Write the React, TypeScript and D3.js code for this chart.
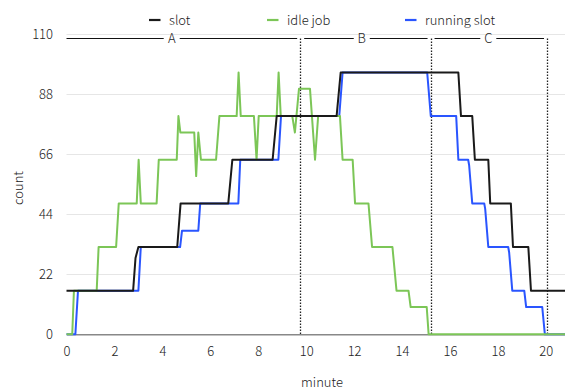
import React, { useEffect, useRef } from 'react';
import * as d3 from 'd3';

// [minute, count] samples
const slotPoints: [number, number][] = [
  [0, 16], [2.78, 16], [2.88, 28], [3.0, 32], [4.62, 32], [4.76, 48], [6.75, 48], [6.92, 64],
  [8.6, 64], [8.77, 80], [11.27, 80], [11.44, 96], [16.35, 96], [16.46, 80], [16.93, 80],
  [17.04, 64], [17.6, 64], [17.68, 48], [18.54, 48], [18.63, 32], [19.27, 32], [19.38, 16],
  [20.8, 16],
];

const idlePoints: [number, number][] = [
  [0, 0], [0.24, 0], [0.31, 16], [1.26, 16], [1.34, 32], [2.07, 32], [2.18, 48], [2.93, 48],
  [3.01, 64], [3.1, 48], [3.76, 48], [3.85, 64], [4.6, 64], [4.67, 80], [4.75, 74], [5.33, 74],
  [5.41, 58], [5.5, 74], [5.61, 64], [6.24, 64], [6.38, 80], [7.1, 80], [7.18, 96], [7.27, 80],
  [7.82, 80], [7.93, 64], [8.02, 80], [8.77, 80], [8.85, 96], [8.94, 80], [9.42, 80], [9.53, 74],
  [9.7, 90], [10.16, 90], [10.37, 64], [10.5, 80], [11.41, 80], [11.52, 64], [11.94, 64],
  [12.04, 48], [12.6, 48], [12.75, 32], [13.6, 32], [13.77, 16], [14.27, 16], [14.36, 10],
  [15.03, 10], [15.11, 0], [20.8, 0],
];

const runningPoints: [number, number][] = [
  [0, 0], [0.37, 0], [0.48, 16], [3.0, 16], [3.1, 32], [4.74, 32], [4.82, 38], [5.5, 38],
  [5.58, 48], [7.17, 48], [7.25, 64], [8.84, 64], [8.95, 80], [11.38, 80], [11.52, 96],
  [15.05, 96], [15.2, 80], [16.26, 80], [16.35, 64], [16.76, 64], [16.8, 62], [16.93, 48],
  [17.43, 48], [17.47, 46], [17.6, 32], [18.43, 32], [18.47, 30], [18.6, 16], [19.1, 16],
  [19.18, 10], [19.85, 10], [19.96, 0], [20.8, 0],
];

const xTicks = [0, 2, 4, 6, 8, 10, 12, 14, 16, 18, 20];
const yTicks = [0, 22, 44, 66, 88, 110];

// phase boundaries (minute), labels and where each label sits
const phaseBounds = [0, 9.75, 15.19, 20.05];
const phaseLabels = ['A', 'B', 'C'];
const phaseLabelAt = [4.39, 12.32, 17.6];

const legendItems = [
  { label: 'slot', color: '#1a1a1a' },
  { label: 'idle job', color: '#7cc657' },
  { label: 'running slot', color: '#2a55ff' },
];

const FONT = '"Noto Sans CJK KR", "Noto Sans", sans-serif';

const App = () => {
  const ref = useRef<SVGSVGElement | null>(null);

  useEffect(() => {
    if (!ref.current) return;
    const svg = d3.select(ref.current);
    svg.selectAll('*').remove();

    const x = d3.scaleLinear().domain([0, 20.8]).range([66.5, 565]);
    const y = d3.scaleLinear().domain([0, 110]).range([334.3, 34.3]);

    // grid
    svg.append('g')
      .selectAll('line')
      .data(yTicks.filter(d => d > 0))
      .enter()
      .append('line')
      .attr('x1', x(0))
      .attr('x2', x(20.8))
      .attr('y1', d => Math.round(y(d)) + 0.5)
      .attr('y2', d => Math.round(y(d)) + 0.5)
      .attr('stroke', '#e6e6e6')
      .attr('stroke-width', 1);

    // y labels
    svg.append('g')
      .selectAll('text')
      .data(yTicks)
      .enter()
      .append('text')
      .attr('x', 53)
      .attr('y', d => y(d))
      .attr('dy', '0.35em')
      .attr('text-anchor', 'end')
      .attr('font-family', FONT)
      .attr('font-weight', 300)
      .attr('font-size', 13)
      .attr('fill', '#222')
      .text(d => d);

    // x axis
    const xAxis = svg.append('g')
      .attr('transform', `translate(0,${y(0)})`)
      .call(d3.axisBottom(x).tickValues(xTicks).tickSize(0).tickPadding(12));
    xAxis.select('.domain').attr('stroke', '#888').attr('stroke-width', 1.5);
    xAxis.selectAll('text')
      .attr('font-family', FONT)
      .attr('font-weight', 300)
      .attr('font-size', 13)
      .attr('fill', '#222');

    const bracketY = Math.floor(y(108.3)) + 0.5;

    // phase dividers
    svg.append('g')
      .selectAll('line')
      .data(phaseBounds.slice(1))
      .enter()
      .append('line')
      .attr('x1', d => Math.round(x(d)) + 0.5)
      .attr('x2', d => Math.round(x(d)) + 0.5)
      .attr('y1', bracketY)
      .attr('y2', y(0))
      .attr('stroke', '#222')
      .attr('stroke-width', 1.3)
      .attr('stroke-dasharray', '1.5,1.5');

    // phase bracket line with labels
    const bracket = svg.append('g');
    phaseLabels.forEach((label, i) => {
      const x0 = x(phaseBounds[i]) + (i === 0 ? 0 : 4);
      const x1 = x(phaseBounds[i + 1]) - 3;
      const mid = x(phaseLabelAt[i]);
      bracket.append('line')
        .attr('x1', x0).attr('x2', mid - 8)
        .attr('y1', bracketY).attr('y2', bracketY)
        .attr('stroke', '#111').attr('stroke-width', 1);
      bracket.append('line')
        .attr('x1', mid + 8).attr('x2', x1)
        .attr('y1', bracketY).attr('y2', bracketY)
        .attr('stroke', '#111').attr('stroke-width', 1);
      bracket.append('text')
        .attr('x', mid)
        .attr('y', bracketY)
        .attr('dy', '0.35em')
        .attr('text-anchor', 'middle')
        .attr('font-family', FONT)
        .attr('font-weight', 300)
        .attr('font-size', 13)
        .attr('fill', '#222')
        .text(label);
    });

    const line = d3.line<[number, number]>()
      .x(d => x(d[0]))
      .y(d => y(d[1]));

    // draw order: running, idle, slot on top
    const series = [
      { data: runningPoints, color: legendItems[2].color },
      { data: idlePoints, color: legendItems[1].color },
      { data: slotPoints, color: legendItems[0].color },
    ];
    series.forEach(s => {
      svg.append('path')
        .datum(s.data)
        .attr('fill', 'none')
        .attr('stroke', s.color)
        .attr('stroke-width', 2)
        .attr('stroke-linejoin', 'round')
        .attr('d', line);
    });

    // legend
    const legendX = [149, 267, 405];
    legendItems.forEach((item, i) => {
      const g = svg.append('g').attr('transform', `translate(${legendX[i]},20)`);
      g.append('line')
        .attr('x1', 0).attr('x2', 11.5)
        .attr('y1', 0).attr('y2', 0)
        .attr('stroke', item.color)
        .attr('stroke-width', 2.2);
      g.append('text')
        .attr('x', 20)
        .attr('y', 0)
        .attr('dy', '0.35em')
        .attr('font-family', FONT)
        .attr('font-weight', 300)
        .attr('font-size', 13)
        .attr('fill', '#222')
        .text(item.label);
    });

    // axis titles
    svg.append('text')
      .attr('x', 322)
      .attr('y', 382)
      .attr('dy', '0.35em')
      .attr('text-anchor', 'middle')
      .attr('font-family', FONT)
      .attr('font-weight', 300)
      .attr('font-size', 13)
      .attr('fill', '#222')
      .text('minute');

    svg.append('text')
      .attr('transform', 'translate(18,188) rotate(-90)')
      .attr('dy', '0.35em')
      .attr('text-anchor', 'middle')
      .attr('font-family', FONT)
      .attr('font-weight', 300)
      .attr('font-size', 13)
      .attr('fill', '#222')
      .text('count');
  }, []);

  return (
    <svg
      ref={ref}
      width={565}
      height={390}
      style={{ position: 'absolute', left: 0, top: 0, background: '#fff' }}
    />
  );
};

export default App;
